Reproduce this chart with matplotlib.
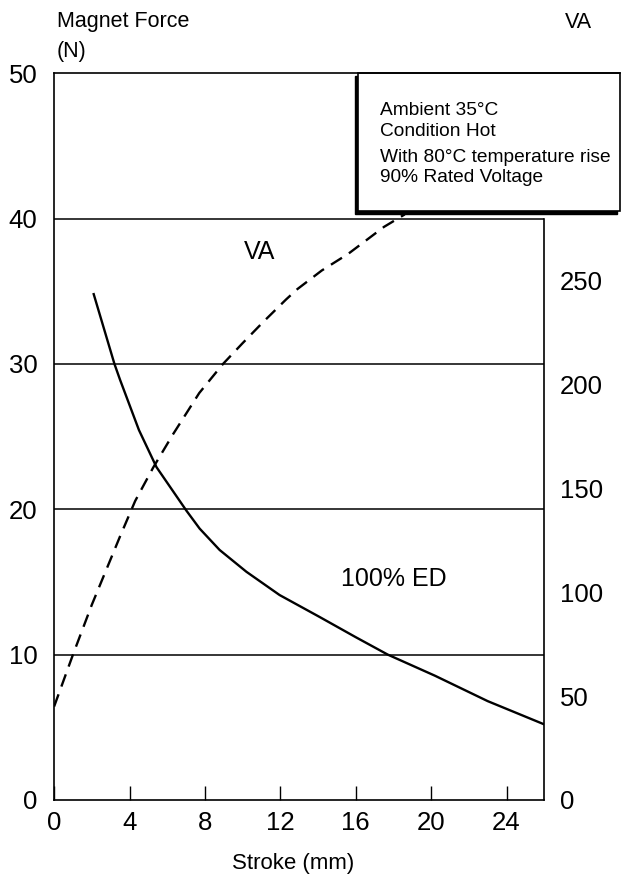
import numpy as np
import matplotlib
matplotlib.use("Agg")
from matplotlib import pyplot as plt
from matplotlib.patches import Rectangle

plt.rcParams['font.family'] = ['Liberation Sans', 'DejaVu Sans']

# force curve (100% ED)
stroke_f = [2.1, 3.2, 3.5, 4.5, 5.43, 7.02, 7.72, 8.78, 10.2, 11.96, 14.07, 16.0, 17.7, 20.2, 23.0, 26.0]
force = [34.8, 30.0, 28.9, 25.45, 22.9, 19.9, 18.67, 17.2, 15.7, 14.1, 12.6, 11.2, 10.0, 8.55, 6.8, 5.2]

# VA curve (dashed)
stroke_va = [0.0, 1.0, 2.0, 3.0, 3.5, 4.3, 5.25, 6.3, 7.7, 8.96, 10.0, 11.07, 12.3, 12.9, 14.2,
             15.6, 17.5, 18.6]
va = [45, 70, 94, 116, 127, 144, 160, 176, 196, 210, 220, 230, 241, 246, 255, 263, 276, 282]

x_ticks = [0, 4, 8, 12, 16, 20, 24]
force_ticks = [0, 10, 20, 30, 40, 50]
va_ticks = [0, 50, 100, 150, 200, 250]
note_lines = ["Ambient 35°C", "Condition Hot", "With 80°C temperature rise", "90% Rated Voltage"]

fig = plt.figure(figsize=(6.22, 8.82), dpi=100)
ax = fig.add_axes([0.087, 0.093, 0.788, 0.824])
ax.set_xlim(0, 26)
ax.set_ylim(0, 50)

# spines: left + bottom full, right only up to 40, top drawn by hand
ax.spines['top'].set_visible(False)
ax.spines['right'].set_bounds(0, 40)
for s in ['left', 'bottom', 'right']:
    ax.spines[s].set_linewidth(1.2)

for g in [10, 20, 30, 40]:
    ax.axhline(g, color='black', lw=1.1, zorder=1)

ax.plot(stroke_f, force, color='black', lw=1.7, zorder=3)

ax.set_xticks(x_ticks)
ax.set_yticks(force_ticks)
ax.tick_params(axis='x', direction='in', length=10, width=1, labelsize=18.5, pad=8)
ax.tick_params(axis='y', length=0, labelsize=18.5, pad=12)

ax.text(10.9, 37.7, "VA", fontsize=18, ha='center', va='center')
ax.text(15.2, 15.2, "100% ED", fontsize=18, ha='left', va='center')

# second axis for VA
ax2 = ax.twinx()
ax2.set_ylim(0, 350)
for s in ax2.spines.values():
    s.set_visible(False)
ax2.set_yticks(va_ticks)
ax2.tick_params(axis='y', length=0, labelsize=18.5, pad=11)
ax2.plot(stroke_va, va, color='black', lw=1.7, linestyle=(0, (5.5, 3.5)), zorder=2)

# top line and note box (drawn on ax2 so it covers the dashed line)
ax2.plot([0, 30], [50, 50], transform=ax.transData, color='black', lw=1.2, clip_on=False, zorder=6)
ax2.add_patch(Rectangle((15.94, 40.3), 13.9, 9.5, transform=ax.transData, facecolor='black',
                        edgecolor='black', lw=1, clip_on=False, zorder=4))
ax2.add_patch(Rectangle((16.1, 40.5), 13.9, 9.5, transform=ax.transData, facecolor='white',
                        edgecolor='black', lw=1.2, clip_on=False, zorder=5))
for txt, yy in zip(note_lines, [47.1, 45.7, 43.9, 42.5]):
    ax2.text(17.3, yy, txt, transform=ax.transData, fontsize=13.8, ha='left', va='baseline',
             zorder=7, clip_on=False)

fig.text(57 / 622, 1 - 22 / 882, "Magnet Force", fontsize=15.5, ha='left', va='center')
fig.text(57 / 622, 1 - 52 / 882, "(N)", fontsize=15.5, ha='left', va='center')
fig.text(565 / 622, 1 - 22 / 882, "VA", fontsize=15.5, ha='left', va='center')
fig.text(293 / 622, 1 - 863 / 882, "Stroke (mm)", fontsize=16, ha='center', va='center')

fig.savefig("out.png", dpi=100)
